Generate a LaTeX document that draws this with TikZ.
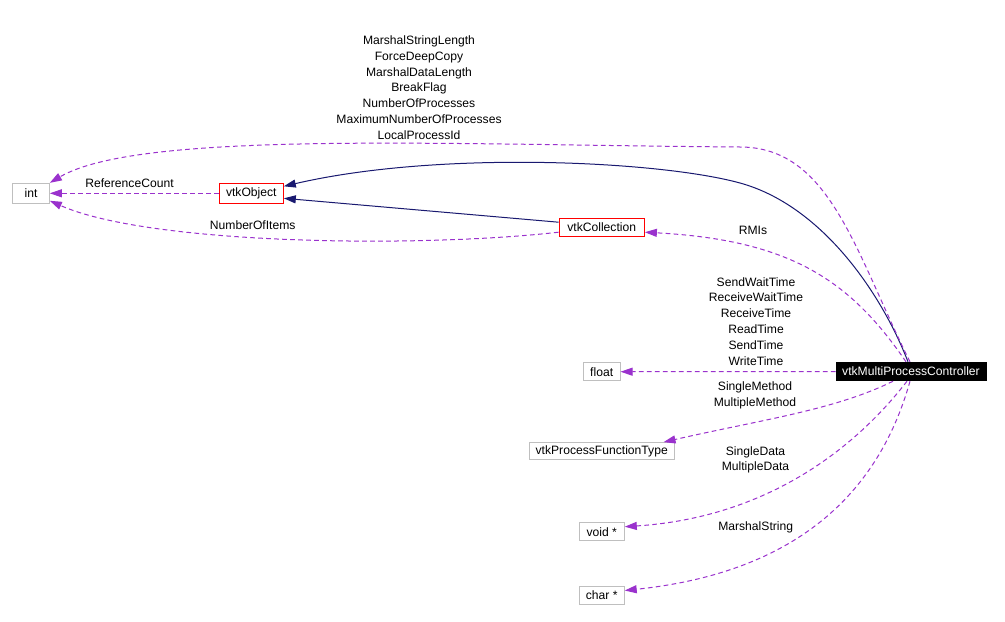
\documentclass[tikz,border=0pt]{standalone}
\usepackage{fontspec}
\setmainfont{Liberation Sans}
\usetikzlibrary{arrows.meta}
\definecolor{depc}{HTML}{9A32CD}
\definecolor{inhc}{HTML}{191970}
\definecolor{gboxc}{HTML}{BFBFBF}
\begin{document}
\begin{tikzpicture}[x=0.75pt,y=-0.75pt,
  every node/.style={font=\fontsize{9.1}{11.93}\selectfont, inner sep=0pt},
  cls/.style={draw=gboxc, line width=0.75pt, fill=white},
  redcls/.style={draw=red, line width=0.75pt, fill=white},
  ctrlbox/.style={draw=black, fill=black, text=white, line width=0.75pt},
  lbl/.style={text=black},
  dep/.style={draw=depc, line width=0.75pt, dash pattern=on 3.5pt off 2.5pt,
    -{Triangle[length=9pt,width=6pt,fill=depc]}},
  inh/.style={draw=inhc, line width=0.75pt,
    -{Triangle[length=9pt,width=6pt,fill=inhc]}}
]
\fill[white] (0,0) rectangle (1005,621);
\useasboundingbox (0,0) rectangle (1005,621);

% nodes
\node[cls, minimum width=27.5pt, minimum height=15pt] (int) at (31,193.3) {int};
\node[redcls, minimum width=48pt, minimum height=15pt] (obj) at (251.3,193.3) {vtkObject};
\node[redcls, minimum width=64pt, minimum height=13.25pt] (coll) at (601.7,227.2) {vtkCollection};
\node[ctrlbox, minimum width=112.5pt, minimum height=13.8pt] (ctrl) at (911,371.5) {vtkMultiProcessController};
\node[cls, minimum width=27.5pt, minimum height=13.5pt] (float) at (601.7,371.7) {float};
\node[cls, minimum width=108.5pt, minimum height=13pt] (pft) at (601.7,451.3) {vtkProcessFunctionType};
\node[cls, minimum width=33.75pt, minimum height=13.5pt] (void) at (601.8,531.7) {void *};
\node[cls, minimum width=33.75pt, minimum height=13.2pt] (char) at (601.7,595.5) {char *};

% inheritance edges
\draw[inh] ([xshift=-2.25pt]ctrl.north) .. controls (880,290) and (820,205) .. (740,183)
  .. controls (660,161) and (440,150) .. ([yshift=5.25pt]obj.east);
\draw[inh] ([yshift=3.75pt]coll.west) -- ([yshift=-3.75pt]obj.east);

% usage edges
\draw[dep] ([xshift=-0.75pt]ctrl.north) .. controls (855,252) and (830,147) .. (740,147)
  .. controls (450,145) and (140,130) .. (int.north east);
\draw[dep] (obj.west) -- (int.east);
\draw[dep] ([yshift=-3.75pt]coll.west) .. controls (420,248) and (150,245) .. ([yshift=2.25pt]int.south east);
\draw[dep] ([xshift=-3.75pt]ctrl.north) .. controls (850,280) and (790,240) .. ([yshift=-3.75pt]coll.east);
\draw[dep] (ctrl.west) -- (float.east);
\draw[dep] ([xshift=-13.5pt]ctrl.south) .. controls (835,410) and (760,420) .. ([xshift=-8.25pt]pft.north east);
\draw[dep] ([xshift=-3pt]ctrl.south) .. controls (850,455) and (760,518) .. ([yshift=3.75pt]void.east);
\draw[dep] ([xshift=-0.75pt]ctrl.south) .. controls (885,470) and (820,570) .. ([yshift=3.75pt]char.east);

% labels
\node[lbl, anchor=north, align=center] (lint) at (419,35.2) {MarshalStringLength\\ForceDeepCopy\\MarshalDataLength\\BreakFlag\\NumberOfProcesses\\MaximumNumberOfProcesses\\LocalProcessId};
\node[lbl, anchor=north] (lref) at (129.5,178.3) {ReferenceCount};
\node[lbl, anchor=north] (lnum) at (252.7,220) {NumberOfItems};
\node[lbl, anchor=north] (lrmi) at (753,226) {RMIs};
\node[lbl, anchor=north, align=center] (lflt) at (756,277) {SendWaitTime\\ReceiveWaitTime\\ReceiveTime\\ReadTime\\SendTime\\WriteTime};
\node[lbl, anchor=north, align=center] (lpft) at (755,381.7) {SingleMethod\\MultipleMethod};
\node[lbl, anchor=north, align=center] (lvoid) at (755.5,446) {SingleData\\MultipleData};
\node[lbl, anchor=north] (lchar) at (755.7,521) {MarshalString};
\end{tikzpicture}
\end{document}
